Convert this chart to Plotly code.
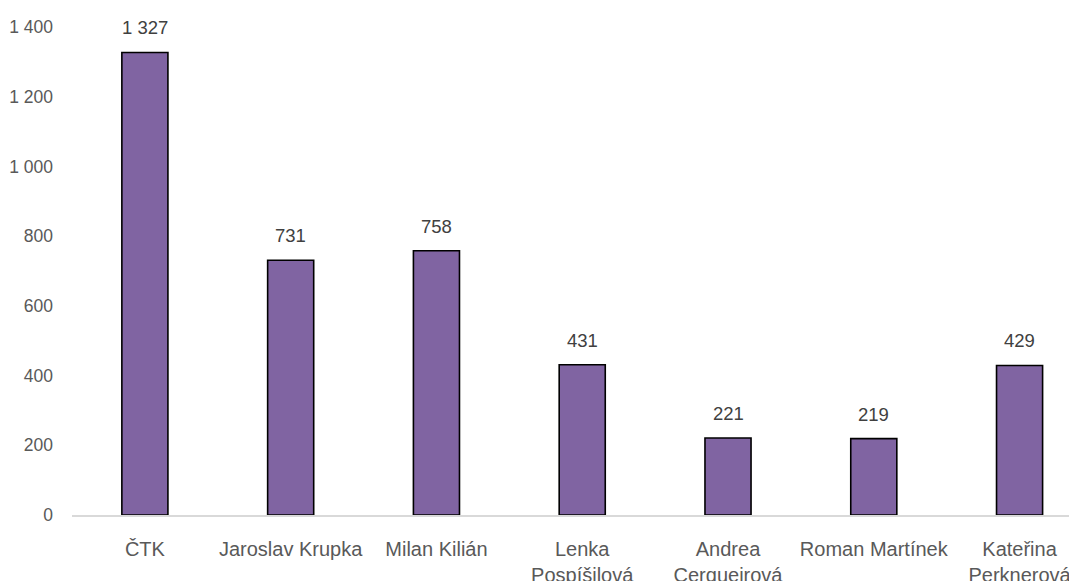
import plotly.graph_objects as go

categories = ["ČTK", "Jaroslav Krupka", "Milan Kilián", "Lenka<br>Pospíšilová",
              "Andrea<br>Cerqueirová", "Roman Martínek", "Kateřina<br>Perknerová"]
values = [1327, 731, 758, 431, 221, 219, 429]
y_ticks = [0, 200, 400, 600, 800, 1000, 1200, 1400]

def fmt(v):
    return f"{v:,}".replace(",", " ")

FONT = "Liberation Sans, Arial, sans-serif"

fig = go.Figure()
fig.add_trace(go.Bar(
    x=categories, y=values, width=0.316,
    marker=dict(color="#8064A2", line=dict(color="#000000", width=1.6)),
))

for c, v in zip(categories, values):
    fig.add_annotation(x=c, y=v, text=fmt(v), showarrow=False, yanchor="bottom",
                       yshift=12, font=dict(family=FONT, size=18.5, color="#404040"))

# page body has an 8px margin, so the figure is sized to fit the window
fig.update_layout(
    width=1069, height=573,
    margin=dict(l=64, r=0, t=19, b=66, autoexpand=False),
    paper_bgcolor="white", plot_bgcolor="white",
    showlegend=False,
    font=dict(family=FONT, size=18, color="#595959"),
)
fig.update_xaxes(
    range=[-0.5, 6.394], showline=True, linecolor="#d9d9d9", linewidth=1.5,
    showgrid=False, ticks="", ticklabelstandoff=15, automargin=False,
    tickfont=dict(family=FONT, size=20, color="#595959"),
)
fig.update_yaxes(
    range=[0, 1400], tickvals=y_ticks, ticktext=[fmt(t) for t in y_ticks],
    showgrid=False, showline=False, zeroline=False, ticks="",
    ticklabelstandoff=18, automargin=False,
    tickfont=dict(family=FONT, size=17.5, color="#595959"),
)

fig.write_html("out.html")
